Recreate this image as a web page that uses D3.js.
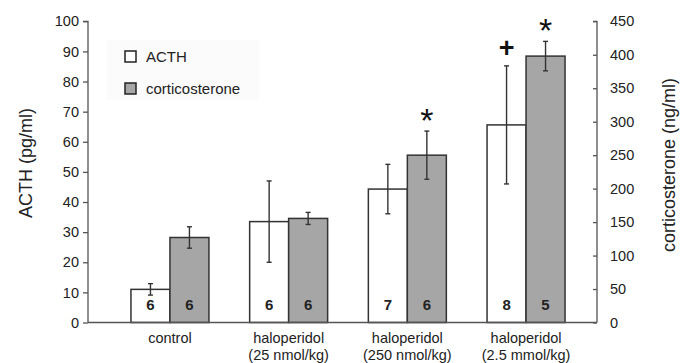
<!DOCTYPE html>
<html>
<head>
<meta charset="utf-8">
<script src="https://cdn.jsdelivr.net/npm/d3@7"></script>
<style>
    body { margin: 0; background: #fff; }
    svg { display: block; font-family: "Liberation Sans", Arial, sans-serif; }
</style>
</head>
<body>
<svg id="chart"></svg>
<script>
"use strict";

// values
const groups = ["control", "haloperidol|(25 nmol/kg)", "haloperidol|(250 nmol/kg)", "haloperidol|(2.5 mmol/kg)"];
const acth = [11, 33.5, 44.3, 65.6];          // pg/ml (left axis)
const acthErr = [1.9, 13.5, 8.2, 19.6];
const cort = [127, 155.5, 250, 398];          // ng/ml (right axis)
const cortErr = [16, 9, 36, 22];
const acthN = [6, 6, 7, 8];
const cortN = [6, 6, 6, 5];
const acthMarks = ["", "", "", "+"];
const cortMarks = ["", "", "*", "*"];
const leftTicks = [0, 10, 20, 30, 40, 50, 60, 70, 80, 90, 100];
const rightTicks = [0, 50, 100, 150, 200, 250, 300, 350, 400, 450];

const width = 683;
const height = 363;
const plotLeft = 88, plotRight = 597, plotTop = 21.3, plotBottom = 322.5;
const ink = "#222";
const axisCol = "#555";
const barStroke = "#333";

const svg = d3.select("#chart")
    .attr("width", width)
    .attr("height", height);

const x = d3.scaleBand()
    .domain(groups)
    .range([110.6, 585.4])
    .paddingInner(0.343)
    .paddingOuter(0.1715);

const yL = d3.scaleLinear().domain([0, 100]).range([plotBottom, plotTop]);
const yR = d3.scaleLinear().domain([0, 450]).range([plotBottom, plotTop]);

const bw = x.bandwidth() / 2;

// legend background (very faint)
svg.append("rect")
    .attr("x", 107).attr("y", 40)
    .attr("width", 152).attr("height", 60)
    .attr("fill", "#fbfbfb");

// left axis
const gL = svg.append("g")
    .attr("transform", `translate(${plotLeft},0)`)
    .call(d3.axisLeft(yL).tickValues(leftTicks).tickSize(5).tickPadding(4));
// right axis, ticks point inward
const gR = svg.append("g")
    .attr("transform", `translate(${plotRight},0)`)
    .call(d3.axisRight(yR).tickValues(rightTicks).tickSize(-4).tickPadding(13));

[gL, gR].forEach(g => {
    g.select(".domain").attr("stroke", axisCol).attr("stroke-width", 1.3);
    g.selectAll(".tick line").attr("stroke", axisCol).attr("stroke-width", 1.3);
    g.selectAll(".tick text").attr("fill", ink).style("font-size", "14.5px");
});
gL.select(".domain").attr("d", `M-5,${plotTop}H0V${plotBottom}`);
gR.select(".domain").attr("d", `M-4,${plotTop}H0V${plotBottom}`);

// bars
const grp = svg.selectAll(".grp")
    .data(groups)
    .enter()
    .append("g")
    .attr("class", "grp");

grp.append("rect")
    .attr("x", d => x(d))
    .attr("y", (d, i) => yL(acth[i]))
    .attr("width", bw)
    .attr("height", (d, i) => plotBottom - yL(acth[i]))
    .attr("fill", "#fff")
    .attr("stroke", barStroke)
    .attr("stroke-width", 1.5);

grp.append("rect")
    .attr("x", d => x(d) + bw)
    .attr("y", (d, i) => yR(cort[i]))
    .attr("width", bw)
    .attr("height", (d, i) => plotBottom - yR(cort[i]))
    .attr("fill", "#a6a6a6")
    .attr("stroke", barStroke)
    .attr("stroke-width", 1.5);

// error bars
function errBar(cx, y0, y1) {
    const g = svg.append("g").attr("stroke", barStroke).attr("stroke-width", 1.4);
    g.append("line").attr("x1", cx).attr("x2", cx).attr("y1", y0).attr("y2", y1);
    g.append("line").attr("x1", cx - 2.5).attr("x2", cx + 2.5).attr("y1", y0).attr("y2", y0);
    g.append("line").attr("x1", cx - 2.5).attr("x2", cx + 2.5).attr("y1", y1).attr("y2", y1);
}
groups.forEach((d, i) => {
    const ca = x(d) + bw / 2;
    const cc = x(d) + bw * 1.5;
    errBar(ca, yL(acth[i] + acthErr[i]), yL(acth[i] - acthErr[i]));
    errBar(cc, yR(cort[i] + cortErr[i]), yR(cort[i] - cortErr[i]));
});

// baseline
svg.append("line")
    .attr("x1", plotLeft).attr("x2", plotRight)
    .attr("y1", plotBottom).attr("y2", plotBottom)
    .attr("stroke", axisCol).attr("stroke-width", 1.3);

// n labels
grp.append("text")
    .attr("x", d => x(d) + bw / 2)
    .attr("y", 310)
    .attr("text-anchor", "middle")
    .style("font-size", "15px").style("font-weight", "bold")
    .attr("fill", ink)
    .text((d, i) => acthN[i]);
grp.append("text")
    .attr("x", d => x(d) + bw * 1.5)
    .attr("y", 310)
    .attr("text-anchor", "middle")
    .style("font-size", "15px").style("font-weight", "bold")
    .attr("fill", ink)
    .text((d, i) => cortN[i]);

// significance markers
grp.append("text")
    .attr("x", d => x(d) + bw / 2)
    .attr("y", (d, i) => yL(acth[i] + acthErr[i]) - 9)
    .attr("text-anchor", "middle")
    .style("font-size", "27px").style("font-weight", "bold")
    .attr("fill", "#111")
    .text((d, i) => acthMarks[i]);
grp.append("text")
    .attr("x", d => x(d) + bw * 1.5)
    .attr("y", (d, i) => yR(cort[i] + cortErr[i]) + 1)
    .attr("text-anchor", "middle")
    .style("font-size", "34px")
    .attr("fill", "#111")
    .text((d, i) => cortMarks[i]);

// category labels
grp.each(function (d) {
    const lines = d.split("|");
    const t = d3.select(this).append("text")
        .attr("text-anchor", "middle")
        .style("font-size", "14.5px")
        .attr("fill", ink);
    lines.forEach((ln, k) => {
        t.append("tspan")
            .attr("x", x(d) + x.bandwidth() / 2)
            .attr("y", 343 + k * 16.5)
            .text(ln);
    });
});

// axis titles
svg.append("text")
    .attr("transform", "translate(32,163) rotate(-90)")
    .attr("text-anchor", "middle")
    .style("font-size", "18px")
    .attr("fill", ink)
    .text("ACTH (pg/ml)");
svg.append("text")
    .attr("transform", "translate(675,165) rotate(-90)")
    .attr("text-anchor", "middle")
    .style("font-size", "18px")
    .attr("fill", ink)
    .text("corticosterone (ng/ml)");

// legend
const legend = [["ACTH", "#fff"], ["corticosterone", "#a6a6a6"]];
const lg = svg.selectAll(".lg")
    .data(legend)
    .enter()
    .append("g")
    .attr("class", "lg")
    .attr("transform", (d, i) => `translate(125,${51 + i * 32})`);
lg.append("rect")
    .attr("width", 11).attr("height", 11)
    .attr("fill", d => d[1])
    .attr("stroke", "#222").attr("stroke-width", 1.5);
lg.append("text")
    .attr("x", 21).attr("y", 11)
    .style("font-size", "15px")
    .attr("fill", ink)
    .text(d => d[0]);
</script>
</body>
</html>
